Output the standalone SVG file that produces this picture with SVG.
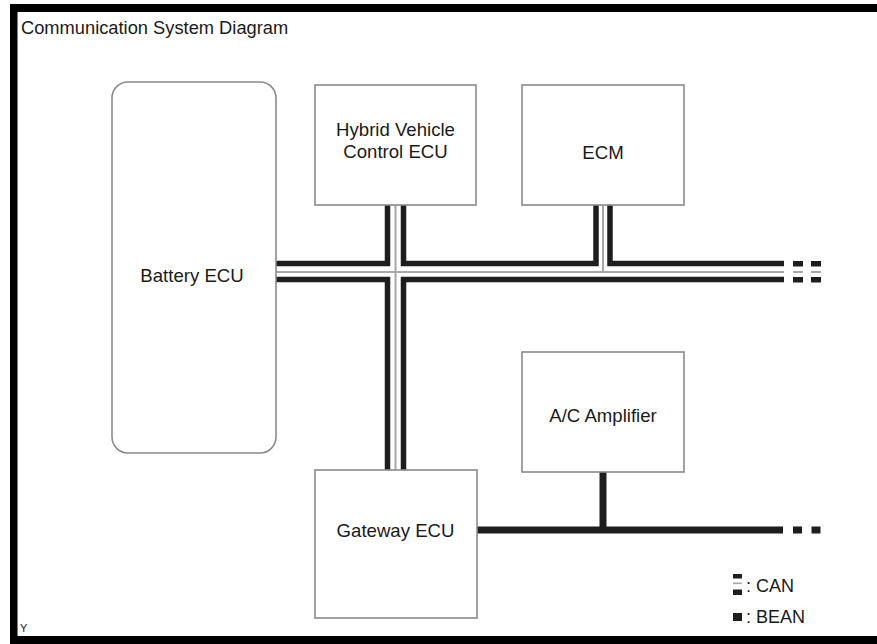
<svg xmlns="http://www.w3.org/2000/svg" width="877" height="644" viewBox="0 0 877 644">
<style>
.box{fill:#fff;stroke:#8a8a8a;stroke-width:1.6}
.lbl{font-family:"Liberation Sans",Arial,sans-serif;font-size:18.6px;fill:#1a1a1a;text-anchor:middle}
.can{fill:none;stroke:#1e1e1e;stroke-width:5.5;stroke-linejoin:miter;stroke-linecap:butt}
.mid{fill:none;stroke:#a8a8a8;stroke-width:2}
.bean{fill:none;stroke:#1e1e1e;stroke-width:7}
.txt{font-family:"Liberation Sans",Arial,sans-serif;fill:#1a1a1a}
</style>
<rect width="877" height="644" fill="#fff"/>
<g id="frame" fill="#000">
<rect x="10" y="4" width="867" height="8"/>
<rect x="10" y="4" width="7.5" height="640"/>
<rect x="10" y="636" width="867" height="8"/>
</g>
<text class="txt" x="21" y="34" font-size="18.3">Communication System Diagram</text>
<g id="connectors">
<polyline class="can" points="276,263.5 387.5,263.5 387.5,205"/>
<polyline class="can" points="403.5,205 403.5,263.5 596,263.5 596,205"/>
<polyline class="can" points="610,205 610,263.5 784,263.5"/>
<polyline class="can" points="276,279.5 387.5,279.5 387.5,470"/>
<polyline class="can" points="403.5,470 403.5,279.5 784,279.5"/>
<line class="mid" x1="276" y1="272" x2="784" y2="272"/>
<line class="mid" x1="395.5" y1="205" x2="395.5" y2="470"/>
<line class="mid" x1="603" y1="205" x2="603" y2="272"/>
<g fill="#1e1e1e">
<rect x="793" y="261" width="10" height="5.5"/>
<rect x="811" y="261" width="10" height="5.5"/>
<rect x="793" y="277" width="10" height="5.5"/>
<rect x="811" y="277" width="10" height="5.5"/>
<rect x="793" y="526.5" width="9" height="7"/>
<rect x="811.5" y="526.5" width="9" height="7"/>
</g>
<g fill="#a8a8a8">
<rect x="793" y="271" width="10" height="2"/>
<rect x="811" y="271" width="10" height="2"/>
</g>
<line class="bean" x1="477" y1="530" x2="783" y2="530"/>
<line class="bean" x1="603" y1="472" x2="603" y2="530"/>
</g>
<g id="battery-ecu">
<rect class="box" x="112" y="82" width="164" height="371" rx="16"/>
<text class="lbl" x="192" y="281.5">Battery ECU</text>
</g>
<g id="hv-ecu">
<rect class="box" x="315" y="85" width="161" height="120"/>
<text class="lbl" x="395.5" y="135.5">Hybrid Vehicle</text>
<text class="lbl" x="395.5" y="157.5">Control ECU</text>
</g>
<g id="ecm">
<rect class="box" x="522" y="85" width="162" height="120"/>
<text class="lbl" x="603" y="158.5">ECM</text>
</g>
<g id="ac-amplifier">
<rect class="box" x="522" y="352" width="162" height="120"/>
<text class="lbl" x="603" y="421.5">A/C Amplifier</text>
</g>
<g id="gateway-ecu">
<rect class="box" x="315" y="470" width="162" height="148"/>
<text class="lbl" x="395.5" y="536.5">Gateway ECU</text>
</g>
<g id="legend">
<rect x="733" y="574" width="9" height="4.5" fill="#1e1e1e"/>
<rect x="733" y="582.5" width="9" height="1.6" fill="#a8a8a8"/>
<rect x="733" y="589.5" width="9" height="5.5" fill="#1e1e1e"/>
<text class="txt" x="746" y="592" font-size="18">: CAN</text>
<rect x="733" y="613" width="9" height="8" fill="#1e1e1e"/>
<text class="txt" x="746" y="623" font-size="18">: BEAN</text>
</g>
<text class="txt" x="20" y="632" font-size="11" fill="#777">Y</text>
</svg>
